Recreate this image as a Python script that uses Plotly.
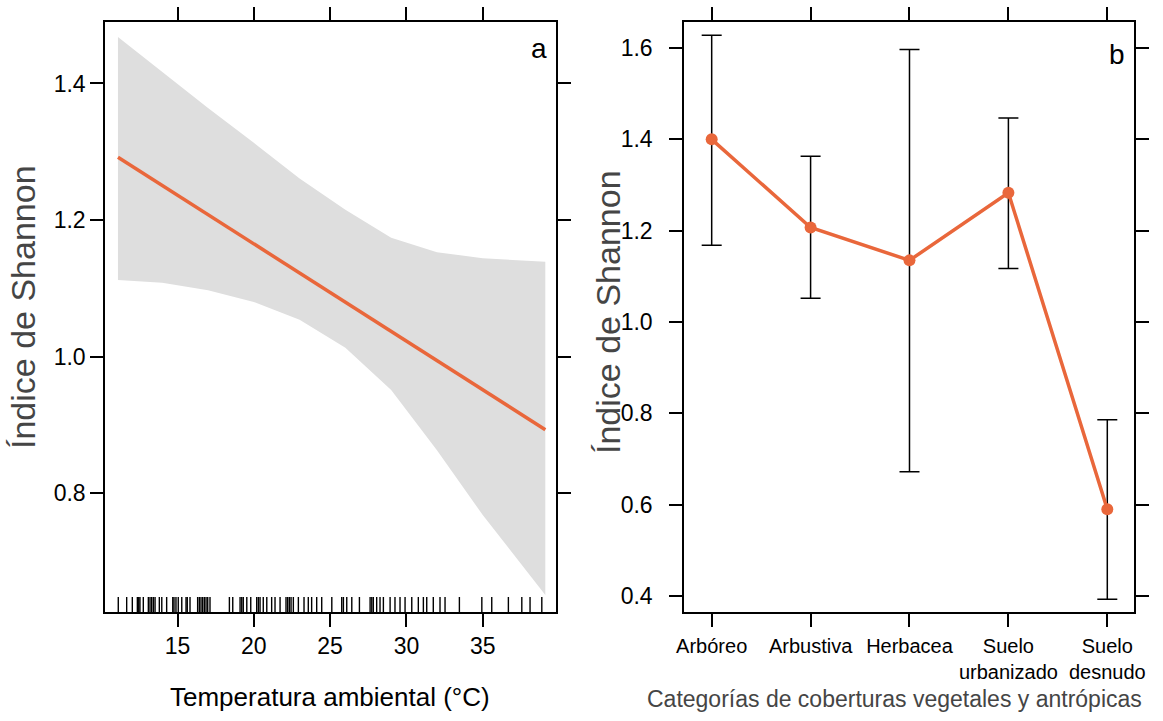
import plotly.graph_objects as go

# ---- Panel a data ----
temp_line = [11.1, 39.1]
shannon_line = [1.292, 0.893]
band_temp = [11.1, 14, 17, 20, 23, 26, 29, 32, 35, 39.1]
band_upper = [1.468, 1.417, 1.364, 1.313, 1.261, 1.215, 1.174, 1.153, 1.144, 1.139]
band_lower = [1.112, 1.108, 1.097, 1.080, 1.054, 1.013, 0.951, 0.863, 0.768, 0.651]
rug_temp = [11.12, 11.67, 12.04, 12.37, 12.46, 12.54, 12.76, 13.09, 13.2, 13.31, 13.42, 13.53,
            13.81, 13.97, 14.29, 14.69, 14.77, 14.9, 15.05, 15.28, 15.56, 15.64, 15.82, 16.32,
            16.43, 16.54, 16.65, 16.76, 16.87, 16.98, 17.13, 18.4, 18.62, 19.1, 19.21, 19.31,
            19.54, 19.8, 20.19, 20.3, 20.41, 20.62, 20.85, 21.17, 21.39, 21.72, 22.11, 22.22,
            22.33, 22.44, 22.59, 22.92, 23.29, 23.57, 23.79, 24.12, 24.45, 25.11, 25.76, 25.87,
            26.09, 26.42, 26.92, 27.62, 27.73, 27.83, 28.05, 28.27, 28.49, 28.93, 29.25, 29.58,
            29.91, 30.35, 30.78, 31.11, 31.33, 31.76, 32.2, 32.53, 33.47, 34.94, 35.59, 36.68,
            37.56, 38.1, 38.87]

# ---- Panel b data ----
categories = ["Arbóreo", "Arbustiva", "Herbacea", "Suelo<br>urbanizado", "Suelo<br>desnudo"]
cat_mean = [1.400, 1.207, 1.135, 1.283, 0.590]
cat_upper = [1.628, 1.363, 1.597, 1.447, 0.786]
cat_lower = [1.168, 1.052, 0.672, 1.117, 0.393]

# ---- Text ----
x_title_a = "Temperatura ambiental (°C)"
x_title_b = "Categorías de coberturas vegetales y antrópicas"
y_title = "Índice de Shannon"

ORANGE = "#E9673B"
GREY = "#DEDEDE"
FONT = "Liberation Sans, Arial, sans-serif"
TITLE_GREY = "#454545"

fig = go.Figure()

# band
fig.add_trace(go.Scatter(x=band_temp, y=band_upper, mode="lines", line=dict(width=0, color=GREY),
                         hoverinfo="skip", showlegend=False, xaxis="x", yaxis="y"))
fig.add_trace(go.Scatter(x=band_temp, y=band_lower, mode="lines", line=dict(width=0, color=GREY),
                         fill="tonexty", fillcolor=GREY, hoverinfo="skip", showlegend=False,
                         xaxis="x", yaxis="y"))
# fit line
fig.add_trace(go.Scatter(x=temp_line, y=shannon_line, mode="lines", line=dict(color=ORANGE, width=3.5),
                         showlegend=False, xaxis="x", yaxis="y"))

# rug
ya_min, ya_max = 0.626, 1.49
rug_h = 0.022
rx, ry = [], []
for t in rug_temp:
    rx += [t, t, None]
    ry += [ya_min, ya_min + rug_h, None]
fig.add_trace(go.Scatter(x=rx, y=ry, mode="lines", line=dict(color="black", width=1.4),
                         showlegend=False, hoverinfo="skip", xaxis="x", yaxis="y"))

# panel b
err_plus = [u - m for u, m in zip(cat_upper, cat_mean)]
err_minus = [m - l for m, l in zip(cat_mean, cat_lower)]
fig.add_trace(go.Scatter(x=list(range(len(categories))), y=cat_mean, mode="lines+markers",
                         line=dict(color=ORANGE, width=3.5),
                         marker=dict(color=ORANGE, size=12),
                         error_y=dict(type="data", symmetric=False, array=err_plus, arrayminus=err_minus,
                                      color="black", thickness=1.5, width=10),
                         showlegend=False, xaxis="x2", yaxis="y2"))

W, H = 1163, 721
ydom = [1 - 612 / H, 1 - 22 / H]


def axis_style(size=23, standoff=None):
    d = dict(showgrid=False, zeroline=False, showline=True, linecolor="black", linewidth=1.5,
             mirror="ticks", ticks="outside", ticklen=13, tickwidth=1.5, tickcolor="black",
             automargin=False, tickangle=0,
             tickfont=dict(family=FONT, size=size, color="black"))
    if standoff is not None:
        d["ticklabelstandoff"] = standoff
    return d


fig.update_layout(
    width=W, height=H,
    margin=dict(l=0, r=0, t=0, b=0),
    paper_bgcolor="white", plot_bgcolor="white",
    xaxis=dict(domain=[105 / W, 556 / W], range=[10.25, 39.8], tickvals=[15, 20, 25, 30, 35],
               anchor="y", **axis_style()),
    yaxis=dict(domain=ydom, range=[ya_min, ya_max], tickvals=[0.8, 1.0, 1.2, 1.4],
               ticktext=["0.8", "1.0", "1.2", "1.4"], anchor="x", **axis_style()),
    xaxis2=dict(domain=[684 / W, 1134 / W], range=[-0.28, 4.27], tickvals=list(range(len(categories))),
                ticktext=categories, anchor="y2", **axis_style(size=20, standoff=2)),
    yaxis2=dict(domain=ydom, range=[0.365, 1.657], tickvals=[0.4, 0.6, 0.8, 1.0, 1.2, 1.4, 1.6],
                ticktext=["0.4", "0.6", "0.8", "1.0", "1.2", "1.4", "1.6"],
                anchor="x2", **axis_style(standoff=12)),
    annotations=[
        dict(text="a", xref="x domain", yref="y domain", x=0.985, y=0.985, xanchor="right", yanchor="top",
             showarrow=False, font=dict(family=FONT, size=28, color="black")),
        dict(text="b", xref="x2 domain", yref="y2 domain", x=0.985, y=0.975, xanchor="right", yanchor="top",
             showarrow=False, font=dict(family=FONT, size=28, color="black")),
        dict(text=x_title_a, xref="paper", yref="paper", x=330 / W, y=1 - 697 / H,
             xanchor="center", yanchor="middle", showarrow=False,
             font=dict(family=FONT, size=26, color="black")),
        dict(text=x_title_b, xref="paper", yref="paper", x=894 / W, y=1 - 699 / H,
             xanchor="center", yanchor="middle", showarrow=False,
             font=dict(family=FONT, size=23, color=TITLE_GREY)),
        dict(text=y_title, xref="paper", yref="paper", x=23 / W, y=1 - 307 / H, textangle=-90,
             xanchor="center", yanchor="middle", showarrow=False,
             font=dict(family=FONT, size=34, color=TITLE_GREY)),
        dict(text=y_title, xref="paper", yref="paper", x=608 / W, y=1 - 312 / H, textangle=-90,
             xanchor="center", yanchor="middle", showarrow=False,
             font=dict(family=FONT, size=34, color=TITLE_GREY)),
    ],
)

fig.write_html("out.html")
